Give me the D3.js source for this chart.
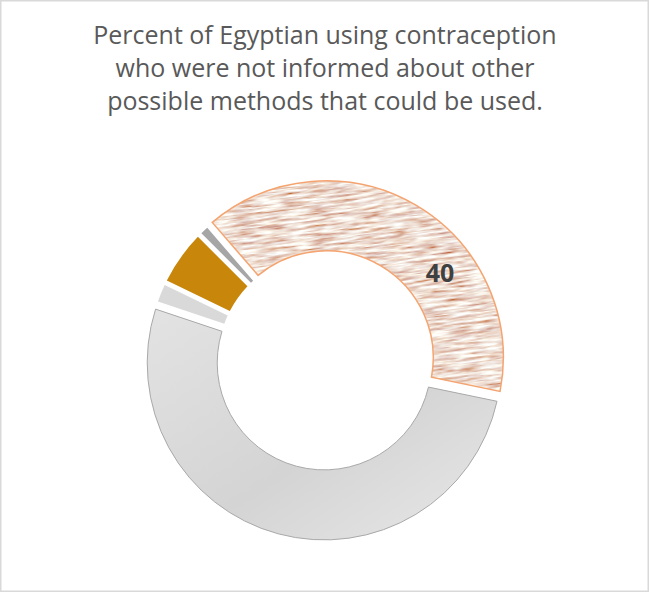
<!doctype html>
<meta charset="utf-8">
<title>Contraception donut</title>
<script src="https://cdn.jsdelivr.net/npm/d3@7"></script>
<style>
  body { margin: 0; background: #fff; }
  svg { display: block; }
</style>
<body>
<div id="chart"></div>
<script>

    // data (percent, clockwise from the orange slice)
    var categories = ["Not informed", "Informed", "Don't know", "Other", "Missing"];
    var values = [40, 52.5, 1.7, 5, 0.8];
    var labels = ["40", "", "", "", ""];
    var titleLines = [
        "Percent of Egyptian using contraception",
        "who were not informed about other",
        "possible methods that could be used."
    ];

    var width = 650
            , height = 593
            , cx = 325
            , cy = 360
            , outerR = 177
            , innerR = 107;

    // how far each slice is pulled out from the centre
    var explode = [2.5, 3, 0, 0, 0];

    var svg = d3.select('#chart').append('svg')
            .attr('width', width)
            .attr('height', height);

    var defs = svg.append('defs');

    // streaky fabric-like texture for the highlighted slice
    var filt = defs.append('filter')
            .attr('id', 'streaks')
            .attr('filterUnits', 'userSpaceOnUse')
            .attr('x', 0).attr('y', 0).attr('width', 800).attr('height', 800);
    filt.append('feTurbulence')
            .attr('type', 'fractalNoise')
            .attr('baseFrequency', '0.04 0.4')
            .attr('numOctaves', 3)
            .attr('seed', 11);
    filt.append('feColorMatrix')
            .attr('type', 'matrix')
            .attr('values',
                '0.8 0.1 0 0 0.40 ' +
                '1.5 0 0 0 -0.03 ' +
                '1.6 -0.15 0 0 -0.08 ' +
                '0 0 0 0 1');

    var pat = defs.append('pattern')
            .attr('id', 'texture')
            .attr('patternUnits', 'userSpaceOnUse')
            .attr('x', -400).attr('y', -400)
            .attr('width', 800).attr('height', 800)
            .attr('patternTransform', 'rotate(-7)');
    pat.append('rect')
            .attr('width', 800).attr('height', 800)
            .attr('filter', 'url(#streaks)');

    var grad = defs.append('linearGradient')
            .attr('id', 'grayfill')
            .attr('x1', '0%').attr('y1', '0%')
            .attr('x2', '100%').attr('y2', '100%');
    grad.append('stop').attr('offset', '0%').attr('stop-color', '#e3e3e3');
    grad.append('stop').attr('offset', '55%').attr('stop-color', '#d4d4d4');
    grad.append('stop').attr('offset', '100%').attr('stop-color', '#e8e8e8');

    var fills = ['url(#texture)', 'url(#grayfill)', '#d9d9d9', '#c8870a', '#a6a6a6'];
    var strokes = ['#f4a470', '#a9a9a9', 'none', 'none', 'none'];
    var strokeW = [1.5, 1, 0, 0, 0];

    // chart frame
    svg.append('rect')
            .attr('x', 0.75).attr('y', 0.75)
            .attr('width', width - 2.5).attr('height', height - 2.5)
            .attr('fill', '#fff')
            .attr('stroke', '#d9d9d9')
            .attr('stroke-width', 1.5);

    svg.append('g').selectAll('text')
            .data(titleLines)
            .enter().append('text')
            .attr('x', cx)
            .attr('y', function(d, i) { return 44 + i * 33; })
            .attr('text-anchor', 'middle')
            .style('font-family', '"Open Sans", sans-serif')
            .style('font-size', '25px')
            .attr('fill', '#595959')
            .text(function(d) { return d; });

    var data = categories.map(function(c, i) {
        return { name: c, value: values[i], label: labels[i], idx: i };
    });

    var start = -40.9 * Math.PI / 180;
    var pie = d3.pie()
            .sort(null)
            .value(function(d) { return d.value; })
            .startAngle(start)
            .endAngle(start + 2 * Math.PI)
            .padAngle(0.024);

    var arc = d3.arc()
            .innerRadius(innerR)
            .outerRadius(outerR);

    var slices = svg.append('g')
            .attr('transform', 'translate(' + cx + ',' + cy + ')')
            .selectAll('g.slice')
            .data(pie(data))
            .enter().append('g')
            .classed('slice', true)
            .attr('transform', function(d) {
                var mid = (d.startAngle + d.endAngle) / 2
                        , e = explode[d.data.idx];
                return 'translate(' + (e * Math.sin(mid)) + ',' + (-e * Math.cos(mid)) + ')';
            });

    slices.append('path')
            .attr('d', arc)
            .attr('fill', function(d) { return fills[d.data.idx]; })
            .attr('stroke', function(d) { return strokes[d.data.idx]; })
            .attr('stroke-width', function(d) { return strokeW[d.data.idx]; });

    // value label, placed at mid ring a bit past the slice middle
    slices.filter(function(d) { return d.data.label !== ''; })
            .append('text')
            .attr('transform', function(d) {
                var a = d.startAngle + 0.66 * (d.endAngle - d.startAngle);
                var p = arc.centroid({ startAngle: a, endAngle: a });
                return 'translate(' + p[0] + ',' + p[1] + ')';
            })
            .attr('text-anchor', 'middle')
            .attr('dy', '0.35em')
            .style('font-family', '"Open Sans", sans-serif')
            .style('font-weight', 'bold')
            .style('font-size', '25px')
            .attr('fill', '#404040')
            .text(function(d) { return d.data.label; });

</script>
</body>
